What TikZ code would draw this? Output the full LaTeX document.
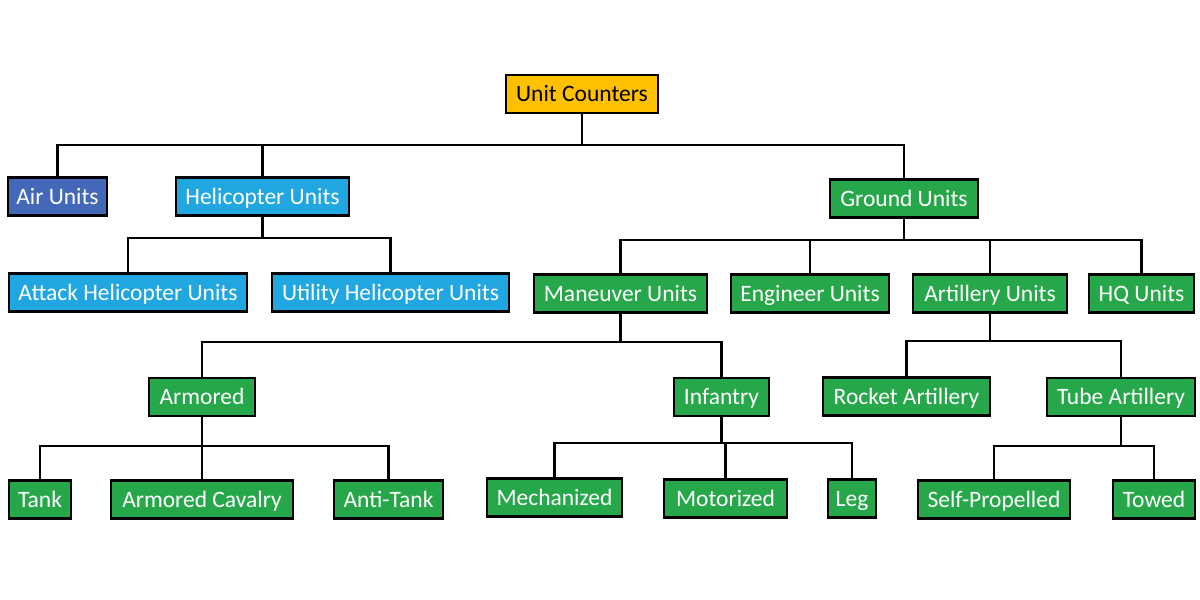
\documentclass[tikz,border=0pt]{standalone}
\usepackage{fontspec}
\setmainfont{Carlito}
\definecolor{cyellow}{RGB}{255,192,0}
\definecolor{cdblue}{RGB}{68,104,184}
\definecolor{clblue}{RGB}{32,166,224}
\definecolor{cgreen}{RGB}{38,168,74}
\tikzset{
  box/.style={draw=black, line width=2.8pt, minimum height=38pt, inner sep=1pt,
    text height=15pt, text depth=0pt,
    font=\fontsize{23.5}{26}\selectfont, text=white, anchor=center},
  ybox/.style={box, fill=cyellow, text=black},
  dbbox/.style={box, fill=cdblue},
  lbbox/.style={box, fill=clblue},
  gbox/.style={box, fill=cgreen},
  link/.style={draw=black, line width=2.8pt, line cap=rect}
}
\begin{document}
\begin{tikzpicture}[x=1pt,y=-1pt]
\useasboundingbox (0,0) rectangle (1200,600);
\coordinate (b0) at (0,145);
\coordinate (b1) at (0,238);
\coordinate (b2) at (0,240);
\coordinate (b3) at (0,342);
\coordinate (b4) at (0,341);
\coordinate (b5) at (0,446);
\coordinate (b6) at (0,443);
\coordinate (b7) at (0,446);
% nodes
\node[ybox, minimum width=152pt] (uc) at (582,94) {Unit Counters};
\node[dbbox, minimum width=99pt] (air) at (57.5,196.5) {Air Units};
\node[lbbox, minimum width=173pt] (heli) at (262.5,196.5) {Helicopter Units};
\node[gbox, minimum width=148pt] (ground) at (904,198.5) {Ground Units};
\node[lbbox, minimum width=238pt] (attack) at (128,292.5) {Attack Helicopter Units};
\node[lbbox, minimum width=237pt] (utility) at (390.5,292.5) {Utility Helicopter Units};
\node[gbox, minimum width=173pt] (man) at (620.5,293.5) {Maneuver Units};
\node[gbox, minimum width=158pt] (eng) at (810,293.5) {Engineer Units};
\node[gbox, minimum width=154pt] (art) at (990,293.5) {Artillery Units};
\node[gbox, minimum width=105pt] (hq) at (1141.5,293.5) {HQ Units};
\node[gbox, minimum width=106pt] (armored) at (202,397) {Armored};
\node[gbox, minimum width=95pt] (inf) at (721.5,397) {Infantry};
\node[gbox, minimum width=167pt] (rocket) at (906.5,396.5) {Rocket Artillery};
\node[gbox, minimum width=148pt] (tube) at (1121,397) {Tube Artillery};
\node[gbox, minimum width=62pt] (tank) at (40,499.5) {Tank};
\node[gbox, minimum width=182pt] (cav) at (202,499.5) {Armored Cavalry};
\node[gbox, minimum width=109pt] (anti) at (388.5,499.5) {Anti-Tank};
\node[gbox, minimum width=135pt] (mech) at (554.5,497.5) {Mechanized};
\node[gbox, minimum width=123pt] (mot) at (725.5,498.5) {Motorized};
\node[gbox, minimum width=48pt] (leg) at (852,498.5) {Leg};
\node[gbox, minimum width=152pt] (self) at (994,499.5) {Self-Propelled};
\node[gbox, minimum width=82pt] (towed) at (1154,499.5) {Towed};
% connectors
\foreach \c in {air,heli,ground}
  \draw[link] (uc.south) |- (\c.north |- b0) -- (\c.north);
\foreach \c in {attack,utility}
  \draw[link] (heli.south) |- (\c.north |- b1) -- (\c.north);
\foreach \c in {man,eng,art,hq}
  \draw[link] (ground.south) |- (\c.north |- b2) -- (\c.north);
\foreach \c in {armored,inf}
  \draw[link] (man.south) |- (\c.north |- b3) -- (\c.north);
\foreach \c in {rocket,tube}
  \draw[link] (art.south) |- (\c.north |- b4) -- (\c.north);
\foreach \c in {tank,cav,anti}
  \draw[link] (armored.south) |- (\c.north |- b5) -- (\c.north);
\foreach \c in {mech,mot,leg}
  \draw[link] (inf.south) |- (\c.north |- b6) -- (\c.north);
\foreach \c in {self,towed}
  \draw[link] (tube.south) |- (\c.north |- b7) -- (\c.north);
\end{tikzpicture}
\end{document}
